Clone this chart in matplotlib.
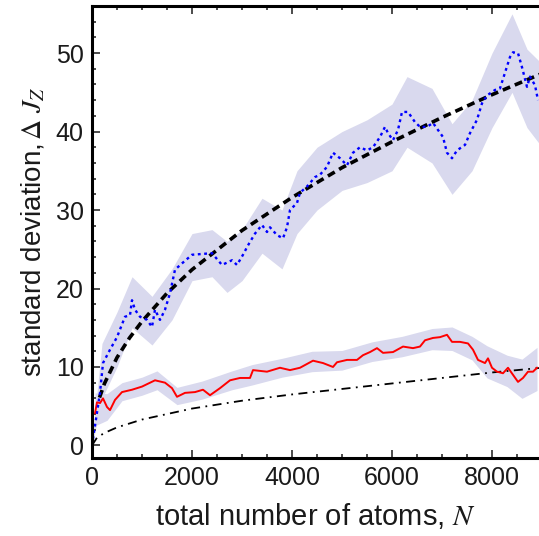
import matplotlib.pyplot as plt
from matplotlib.ticker import MultipleLocator

plt.rcParams['font.family'] = ['Liberation Sans', 'DejaVu Sans']
plt.rcParams['mathtext.fontset'] = 'stix'

# blue dotted series
blue_n = [0, 160, 220, 360, 500, 660, 760, 800, 860, 960, 1100, 1200, 1260, 1360, 1460,
          1560, 1660, 1800, 2000, 2200, 2400, 2600, 2800, 2900, 3020, 3120, 3260, 3400,
          3500, 3560, 3700, 3820, 3900, 3960, 4100, 4160, 4300, 4460, 4560, 4700, 4820,
          4960, 5100, 5220, 5360, 5500, 5620, 5760, 5860, 5920, 6020, 6120, 6200, 6320,
          6460, 6560, 6700, 6820, 6920, 7020, 7100, 7200, 7300, 7460, 7560, 7700, 7800,
          7900, 8060, 8160, 8260, 8360, 8420, 8520, 8600, 8700, 8760, 8860, 8920]
blue_sd = [0, 6.7, 10.5, 12.2, 13.8, 16.4, 16.6, 18.5, 17.3, 16.4, 16.0, 15.1, 17.3, 16.0, 17.3,
           19.4, 22.4, 23.2, 24.3, 24.4, 24.5, 23.0, 23.6, 23.0, 24.3, 25.5, 27.0, 28.1,
           27.2, 27.8, 26.8, 26.4, 27.8, 30.0, 30.9, 32.2, 33.0, 34.2, 34.5, 35.5, 37.3,
           36.6, 35.7, 37.3, 38.0, 37.6, 38.0, 39.3, 40.6, 39.8, 38.9, 40.2, 42.5, 42.5,
           41.2, 40.6, 40.6, 41.1, 40.2, 39.3, 37.3, 36.6, 37.6, 38.3, 39.8, 41.5, 43.6,
           44.6, 45.3, 45.5, 47.5, 49.5, 50.1, 50.0, 48.2, 45.7, 47.0, 45.9, 44.0]

blue_band_n = [0, 200, 500, 800, 1200, 1600, 2000, 2400, 2700, 3000, 3400, 3800, 4100, 4500,
               5000, 5500, 6000, 6300, 6800, 7200, 7600, 8000, 8400, 8700, 8940]
blue_band_lo = [0, 6, 10, 15, 12.8, 16, 21, 21.5, 19.5, 21, 24.5, 22.5, 27, 30,
                32.5, 33.5, 35, 38, 36, 32, 35, 40.5, 45, 40.5, 38.5]
blue_band_hi = [0.5, 13, 17, 21.5, 19, 22.5, 27, 27.5, 26, 27.5, 31.5, 30, 35, 38,
                40, 41.5, 43.5, 47, 45.5, 41, 44, 50, 55, 50.5, 49]

# red solid series
red_n = [60, 100, 160, 220, 300, 360, 460, 600, 800, 1000, 1260, 1460, 1600, 1700, 1860,
         2060, 2220, 2360, 2560, 2760, 2960, 3160, 3220, 3500, 3760, 3960, 4160, 4420,
         4620, 4820, 4900, 5100, 5300, 5420, 5560, 5700, 5820, 6020, 6220, 6420, 6560,
         6660, 6820, 6960, 7100, 7200, 7360, 7520, 7620, 7720, 7860, 7920, 8000, 8100,
         8220, 8320, 8420, 8520, 8620, 8720, 8820, 8900]
red_sd = [4.1, 5.5, 5.4, 6.0, 4.9, 4.5, 5.8, 6.8, 7.1, 7.5, 8.3, 8.0, 7.3, 6.2, 6.7,
          6.8, 7.1, 6.4, 7.3, 8.3, 8.6, 8.6, 9.6, 9.4, 9.9, 9.6, 9.9, 10.8,
          10.5, 10.0, 10.6, 10.9, 10.9, 11.5, 11.9, 12.4, 11.8, 11.9, 12.6, 12.4, 12.6,
          13.4, 13.7, 13.8, 14.1, 13.2, 13.2, 13.0, 12.2, 10.9, 10.5, 11.1, 9.9, 9.4,
          9.2, 9.9, 9.0, 8.1, 8.6, 9.4, 9.4, 9.9]

red_band_n = [60, 300, 600, 1000, 1300, 1700, 2200, 2800, 3200, 3800, 4400, 5000, 5600,
              6200, 6800, 7200, 7600, 7900, 8300, 8600, 8900]
red_band_lo = [2.5, 3.2, 5.7, 6.4, 7.1, 5.2, 5.9, 7.1, 7.7, 8.7, 9.4, 9.6, 10.7,
               11.3, 12.2, 12.1, 10.9, 8.6, 7.5, 6.0, 7.0]
red_band_hi = [6.7, 6.6, 8.0, 8.7, 9.5, 7.4, 8.2, 9.5, 10.3, 11.1, 12.0, 12.1, 13.2,
               13.9, 14.9, 15.1, 13.9, 12.7, 11.5, 11.0, 12.5]

# reference curves
dash_n = [150, 250, 500, 750, 1000, 1500, 2000, 3000, 4000, 5000, 6000, 7000, 8000, 9000]
dash_sd = [6.1, 7.9, 11.2, 13.7, 15.8, 19.4, 22.4, 27.4, 31.6, 35.4, 38.7, 41.8, 44.7, 47.4]

dashdot_n = [0, 100, 250, 500, 1000, 2000, 3000, 4000, 5000, 6000, 7000, 8000, 9000]
dashdot_sd = [0, 1.0, 1.6, 2.3, 3.3, 4.7, 5.7, 6.5, 7.2, 7.9, 8.6, 9.3, 9.9]

band_color = '#d9d9ee'
text_color = '#1a1a1a'

fig = plt.figure(figsize=(5.39, 5.36), dpi=100)
ax = fig.add_axes([92 / 539, 78 / 536, 447 / 539, 452 / 536])

ax.fill_between(blue_band_n, blue_band_lo, blue_band_hi, color=band_color, lw=0)
ax.fill_between(red_band_n, red_band_lo, red_band_hi, color=band_color, lw=0)
ax.plot(dashdot_n, dashdot_sd, color='black', lw=1.3, linestyle=(0, (5, 3, 1, 3)))
ax.plot(red_n, red_sd, color='#ff0000', lw=1.4)
ax.plot(dash_n, dash_sd, color='black', lw=2.6, linestyle=(0, (2.2, 1.4)))
ax.plot(blue_n, blue_sd, color='#0000ff', lw=1.7, linestyle=(0, (1.2, 1.5)))

ax.set_xlim(0, 8940)
ax.set_ylim(-1.6, 56)
ax.xaxis.set_major_locator(MultipleLocator(2000))
ax.xaxis.set_minor_locator(MultipleLocator(500))
ax.yaxis.set_major_locator(MultipleLocator(10))
ax.yaxis.set_minor_locator(MultipleLocator(2))
ax.tick_params(which='both', direction='in', top=True, right=False, labelsize=18,
               colors=text_color, width=1.1)
ax.tick_params(which='major', length=6, pad=6)
ax.tick_params(which='minor', length=3)
for side in ['left', 'bottom', 'top']:
    ax.spines[side].set_linewidth(2.2)
ax.spines['right'].set_visible(False)

ax.set_xlabel('total number of atoms, $N$', fontsize=21, labelpad=8, color=text_color)
ax.set_ylabel('standard deviation,$\\,\\Delta\\ J_Z$', fontsize=20, labelpad=6,
              color=text_color)

fig.savefig('out.png', dpi=100)
